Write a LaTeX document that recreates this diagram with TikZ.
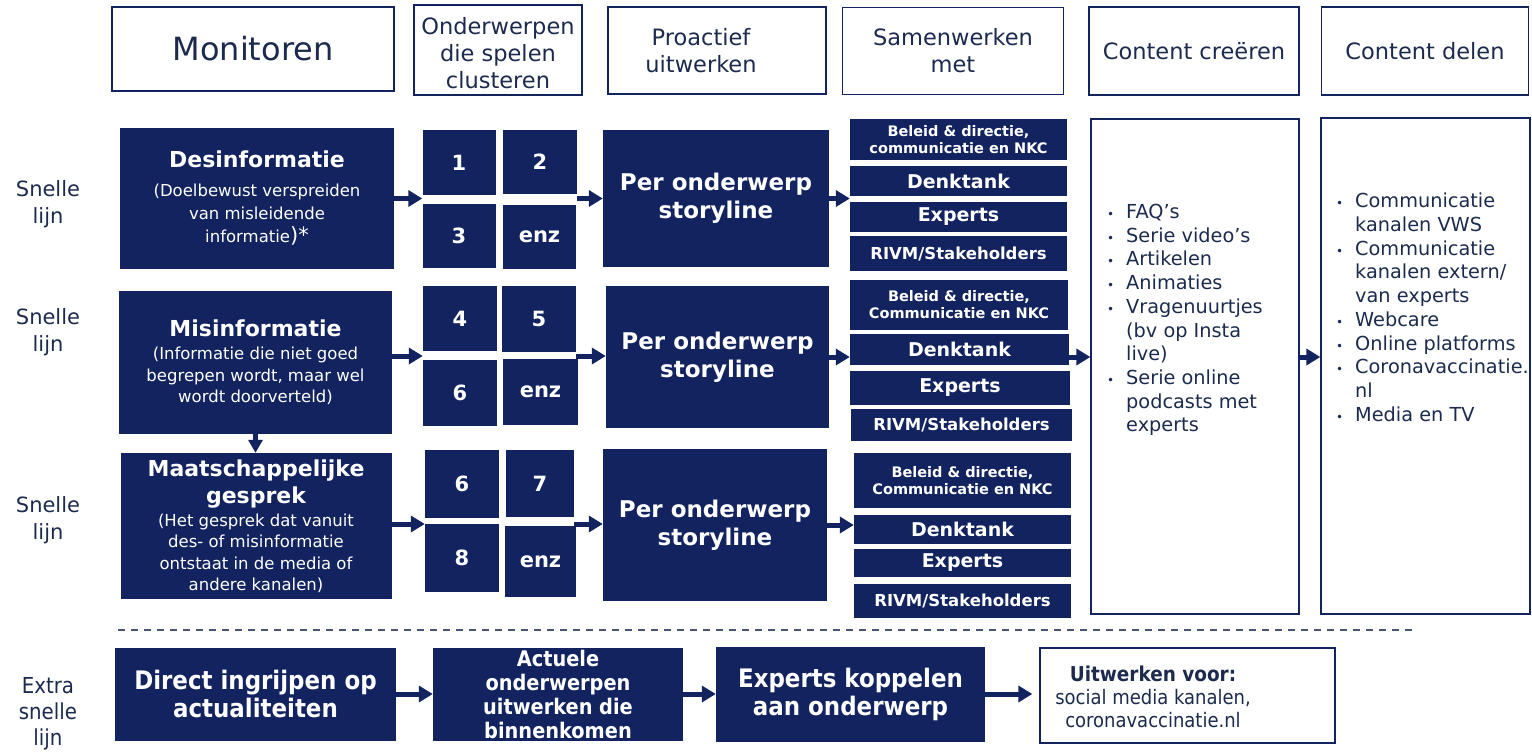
\documentclass[tikz,border=0pt]{standalone}
\usepackage{fontspec}
\setmainfont{DejaVu Sans}
\newfontfamily\condfont{DejaVu Sans Condensed}
\usetikzlibrary{arrows.meta}
\definecolor{vwsblue}{HTML}{13235F}
\definecolor{inkblue}{HTML}{1C2A4E}
\newcommand\boxtitle{\bfseries\fontsize{22}{26}\selectfont}
\newcommand\bul{\makebox[20pt][l]{\hspace*{1pt}\fontsize{12}{12}\selectfont\textbullet}}
\newcommand\nobul{\hspace*{20pt}}

\begin{document}
\begin{tikzpicture}[x=1pt,y=-1pt,
  sz/.style 2 args={minimum width=#1pt,minimum height=#2pt},
  hdr/.style={draw=vwsblue,line width=1.3pt,text=inkblue,align=center,inner sep=0pt,font=\fontsize{22.5}{27}\selectfont},
  hdrtext/.style={text=inkblue,align=center,inner sep=0pt,font=\fontsize{22.5}{27}\selectfont},
  blk/.style={fill=vwsblue,text=white,align=center,inner sep=0pt},
  main/.style={blk,font=\fontsize{16.5}{21.5}\selectfont},
  cell/.style={blk,font=\bfseries\fontsize{21}{25}\selectfont},
  story/.style={blk,font=\bfseries\fontsize{23}{28}\selectfont},
  partner/.style={blk,font=\bfseries\fontsize{19}{22}\selectfont},
  stake/.style={blk,font=\bfseries\fontsize{16.5}{20}\selectfont},
  board/.style={blk,font=\bfseries\fontsize{14.5}{17}\selectfont},
  listbox/.style={draw=vwsblue,line width=1.3pt,inner sep=0pt},
  list/.style={text=inkblue,align=left,inner sep=0pt,anchor=north west,font=\fontsize{19.3}{23.7}\selectfont},
  lbl/.style={text=inkblue,align=center,font=\fontsize{21}{27}\selectfont},
  fast/.style={blk,font=\condfont\bfseries\fontsize{25.5}{27.5}\selectfont},
  arr/.style={vwsblue,line width=5pt,-{Triangle[length=14pt,width=16pt]}}]

\useasboundingbox (0,0) rectangle (1532,755);

% kopjes
\node[hdr,sz={282}{84}] (mon) at (253,49) {\fontsize{32}{38}\selectfont Monitoren};
\node[hdr,sz={168}{90}] (ond) at (498,50) {};
\node[hdrtext] (ondt) at (498,53) {Onderwerpen\\die spelen\\clusteren};
\node[hdr,sz={218}{87}] (pro) at (717,50.5) {};
\node[hdrtext] (prot) at (701,50.5) {Proactief\\uitwerken};
\node[hdr,sz={221}{87}] (sam) at (953,51) {Samenwerken\\met};
\node[hdr,sz={210}{88}] (cre) at (1194,51) {Content creëren};
\node[hdr,sz={207}{88}] (del) at (1425,51) {Content delen};

% lijnen
\node[lbl] (lijn1) at (48,204) {Snelle\\lijn};
\node[lbl] (lijn2) at (48,332) {Snelle\\lijn};
\node[lbl] (lijn3) at (48,520) {Snelle\\lijn};
\node[lbl,font=\condfont\fontsize{22}{26}\selectfont] (lijn4) at (48,714) {Extra\\snelle\\lijn};

% rij 1
\node[main,sz={274}{141},font=\fontsize{16.5}{23}\selectfont] (des) at (257,198.5) {{\boxtitle Desinformatie}\\[6pt](Doelbewust verspreiden\\van misleidende\\informatie{\fontsize{21}{21}\selectfont)*}};
\node[cell,sz={73}{65}] (c1) at (459,162.5) {1};
\node[cell,sz={74}{64}] (c2) at (540,162) {2};
\node[cell,sz={73}{64}] (c3) at (459,236) {3};
\node[cell,sz={73}{64}] (c4) at (539.5,236.5) {enz};
\node[story,sz={226}{137}] (pow1) at (716,198.5) {Per onderwerp\\storyline};
\node[board,sz={217}{41}] (bel1) at (958.5,139.5) {Beleid \& directie,\\communicatie en NKC};
\node[partner,sz={217}{30}] (den1) at (958.5,181) {Denktank};
\node[partner,sz={217}{30}] (exp1) at (958.5,217) {Experts};
\node[stake,sz={217}{35}] (riv1) at (958.5,253.5) {RIVM/Stakeholders};

% rij 2
\node[main,sz={273}{143}] (mis) at (255.5,362) {{\boxtitle Misinformatie}\\[2pt](Informatie die niet goed\\begrepen wordt, maar wel\\wordt doorverteld)};
\node[cell,sz={74}{65}] (c5) at (460,318.5) {4};
\node[cell,sz={74}{66}] (c6) at (539,319) {5};
\node[cell,sz={74}{66}] (c7) at (460,393) {6};
\node[cell,sz={75}{66}] (c8) at (540.5,392) {enz};
\node[story,sz={223}{142}] (pow2) at (717.5,357) {Per onderwerp\\storyline};
\node[board,sz={218}{50}] (bel2) at (959,305) {Beleid \& directie,\\Communicatie en NKC};
\node[partner,sz={219}{31}] (den2) at (959.5,349.5) {Denktank};
\node[partner,sz={220}{34}] (exp2) at (960,388) {Experts};
\node[stake,sz={221}{32}] (riv2) at (961.5,425) {RIVM/Stakeholders};

% rij 3
\node[main,sz={271}{146}] (maat) at (256,526) {{\boxtitle Maatschappelijke}\\[6pt]{\boxtitle gesprek}\\[1pt](Het gesprek dat vanuit\\des- of misinformatie\\ontstaat in de media of\\andere kanalen)};
\node[cell,sz={74}{68}] (c9) at (462,484) {6};
\node[cell,sz={68}{67}] (c10) at (540,483.5) {7};
\node[cell,sz={74}{68}] (c11) at (462,558) {8};
\node[cell,sz={71}{71}] (c12) at (540.5,561.5) {enz};
\node[story,sz={224}{152}] (pow3) at (715,525) {Per onderwerp\\storyline};
\node[board,sz={217}{55}] (bel3) at (962.5,480.5) {Beleid \& directie,\\Communicatie en NKC};
\node[partner,sz={217}{29}] (den3) at (962.5,529.5) {Denktank};
\node[partner,sz={217}{28}] (exp3) at (962.5,563) {Experts};
\node[stake,sz={217}{34}] (riv3) at (962.5,601) {RIVM/Stakeholders};

% content
\node[listbox,sz={208}{495}] (creb) at (1195,366.5) {};
\node[listbox,sz={209}{496}] (delb) at (1425.5,366) {};
\node[list] (crel) at (1106,204) {\bul FAQ’s\\\bul Serie video’s\\\bul Artikelen\\\bul Animaties\\\bul Vragenuurtjes\\\nobul (bv op Insta\\\nobul live)\\\bul Serie online\\\nobul podcasts met\\\nobul experts};
\node[list] (dell) at (1335,193) {\bul Communicatie\\\nobul kanalen VWS\\\bul Communicatie\\\nobul kanalen extern/\\\nobul van experts\\\bul Webcare\\\bul Online platforms\\\bul Coronavaccinatie.\\\nobul nl\\\bul Media en TV};

% pijlen
\draw[arr] (des.east) -- (des.east -| c1.west);
\draw[arr] (des.east -| c2.east) -- (des.east -| pow1.west);
\draw[arr] (pow1.east) -- (pow1.east -| den1.west);
\draw[arr] ([yshift=6pt]mis.east) -- ([yshift=6pt]mis.east -| c5.west);
\draw[arr] ([yshift=6pt]mis.east -| c6.east) -- ([yshift=6pt]mis.east -| pow2.west);
\draw[arr] (pow2.east) -- (pow2.east -| den2.west);
\draw[arr] (den2.east |- pow2.east) -- (pow2.east -| creb.west);
\draw[arr] (creb.east |- pow2.east) -- (pow2.east -| delb.west);
\draw[arr] ([yshift=2pt]maat.east) -- ([yshift=2pt]maat.east -| c9.west);
\draw[arr] ([yshift=2pt]maat.east -| c10.east) -- ([yshift=2pt]maat.east -| pow3.west);
\draw[arr] (pow3.east) -- (pow3.east -| den3.west);
\draw[arr,-{Triangle[length=13pt,width=14pt]}] (mis.south) -- (mis.south |- maat.north);

\draw[inkblue!80,line width=1.5pt,dash pattern=on 7pt off 6pt] (118,630) -- (1415,630);

% extra snelle lijn
\node[fast,sz={281}{93}] (dir) at (255.5,694) {Direct ingrijpen op\\actualiteiten};
\node[fast,sz={250}{93},font=\condfont\bfseries\fontsize{21.5}{23.7}\selectfont] (act) at (558,694.5) {Actuele\\onderwerpen\\uitwerken die\\binnenkomen};
\node[fast,sz={269}{95}] (exk) at (850.5,694.5) {Experts koppelen\\aan onderwerp};
\node[draw=vwsblue,line width=1.3pt,inner sep=0pt,sz={295}{95}] (uit) at (1187.5,695.5) {};
\node[text=inkblue,align=center,inner sep=0pt,font=\condfont\fontsize{20}{23}\selectfont] (uitt) at (1153,697) {{\bfseries\fontsize{20.5}{23}\selectfont Uitwerken voor:}\\social media kanalen,\\coronavaccinatie.nl};
\draw[arr] (dir.east) -- (dir.east -| act.west);
\draw[arr] (act.east |- dir.east) -- (dir.east -| exk.west);
\draw[arr,shorten >=7pt] (exk.east |- dir.east) -- (dir.east -| uit.west);
\end{tikzpicture}
\end{document}
